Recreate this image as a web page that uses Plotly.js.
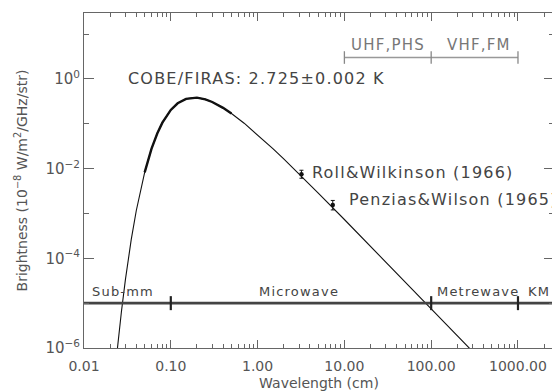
<!DOCTYPE html>
<html>
<head>
<meta charset="utf-8">
<script src="https://cdn.plot.ly/plotly-3.0.1.min.js"></script>
<style>
  html, body { margin: 0; padding: 0; overflow: hidden; background: #fff; }
  #chart { width: 556px; height: 391px; }
  .annotation-text { letter-spacing: 1.2px; }
</style>
</head>
<body>
<div id="chart"></div>
<script>
// Blackbody curve (wavelength in cm, brightness in 1e-8 W/m^2/GHz/str)
const curveWavelength = [0.024, 0.025, 0.027, 0.03, 0.035, 0.04, 0.045, 0.05, 0.06, 0.07, 0.08, 0.1, 0.12, 0.15, 0.19, 0.2, 0.25, 0.3, 0.4, 0.5, 0.7, 1, 1.5, 2, 3, 5, 10, 20, 50, 100, 200, 300];
const curveBrightness = [8.0e-7, 1.7e-6, 6.5e-6, 3.35e-5, 2.6e-4, 1.15e-3, 3.5e-3, 8.25e-3, 0.0278, 0.0615, 0.106, 0.2035, 0.286, 0.359, 0.384, 0.382, 0.350, 0.306, 0.2265, 0.170, 0.103, 0.0572, 0.0279, 0.01646, 0.00765, 2.855e-3, 7.33e-4, 1.86e-4, 3.0e-5, 7.51e-6, 1.88e-6, 8.36e-7];
// COBE/FIRAS measured range (thick part)
const firasWavelength = [0.05, 0.06, 0.07, 0.08, 0.1, 0.12, 0.15, 0.19, 0.2, 0.25, 0.3, 0.4, 0.5];
const firasBrightness = [8.25e-3, 0.0278, 0.0615, 0.106, 0.2035, 0.286, 0.359, 0.384, 0.382, 0.350, 0.306, 0.2265, 0.170];
// Early measurements
const pointNames = ["Roll&Wilkinson (1966)", "Penzias&Wilson (1965)"];
const pointWavelength = [3.2, 7.35];
const pointBrightness = [0.0075, 0.00155];
const pointErrPlus = [0.0017, 0.0004];
const pointErrMinus = [0.0014, 0.00035];
// Band bar (bottom) and radio band bar (top)
const bandLineX = [0.01, 3000];
const bandLineY = [1e-5, 1e-5];
const bandBoundaries = [0.1, 100, 1000];
const bandLevel = 1e-5;
const bandNames = ["Sub-mm", "Microwave", "Metrewave", "KM"];
const radioBoundaries = [10, 100, 1000];
const radioLevel = 3;
const radioNames = ["UHF,PHS", "VHF,FM"];
// Tick labels
const xTickVals = [0.01, 0.1, 1, 10, 100, 1000];
const xTickText = ["0.01", "0.10", "1.00", "10.00", "100.00", "1000.00"];
const yTickVals = [1e-6, 1e-4, 1e-2, 1];
const yTickText = ["10<sup>\u22126</sup>", "10<sup>\u22124</sup>", "10<sup>\u22122</sup>", "10<sup>0</sup>"];
const yMinorVals = [1e-5, 1e-3, 1e-1, 10];
const titleText = "COBE/FIRAS: 2.725\u00b10.002 K";

const xMinor = [];
[0.01, 0.1, 1, 10, 100, 1000].forEach(d => { for (let m = 2; m <= 9; m++) xMinor.push(d * m); });

const FONT = "DejaVu Sans, sans-serif";
const TXT = "#555";

const traces = [
  { x: curveWavelength, y: curveBrightness, mode: "lines", line: { color: "#111", width: 1.1 }, hoverinfo: "skip" },
  { x: firasWavelength, y: firasBrightness, mode: "lines", line: { color: "#111", width: 2.4 }, hoverinfo: "skip" },
  { x: bandLineX, y: bandLineY, mode: "lines", line: { color: "#444", width: 2.8 }, hoverinfo: "skip" },
  { x: bandBoundaries, y: bandBoundaries.map(() => bandLevel), mode: "markers",
    marker: { symbol: "line-ns", size: 10, line: { color: "#222", width: 2.2 } }, hoverinfo: "skip" },
  { x: radioBoundaries, y: radioBoundaries.map(() => radioLevel), mode: "lines+markers",
    line: { color: "#999", width: 1.5 },
    marker: { symbol: "line-ns", size: 9, line: { color: "#888", width: 1.3 } }, hoverinfo: "skip" },
  { x: pointWavelength, y: pointBrightness, mode: "markers",
    marker: { color: "#111", size: 4.5 },
    error_y: { type: "data", symmetric: false, array: pointErrPlus, arrayminus: pointErrMinus, color: "#111", thickness: 1, width: 2 },
    hoverinfo: "skip" }
];

const ann = [];
function label(text, lx, ly, size, color) {
  ann.push({ text: text, x: Math.log10(lx), y: Math.log10(ly), xref: "x", yref: "y",
    xanchor: "left", yanchor: "middle", showarrow: false,
    font: { family: FONT, size: size, color: color } });
}
label(titleText, 0.0305, 1.0, 16, "#444");
label(pointNames[0], 4.05, 0.0080, 16, "#444");
label(pointNames[1], 10.8, 0.0020, 16, "#444");
label(radioNames[0], 11.4, 5.7, 15, "#777");
label(radioNames[1], 143, 5.7, 15, "#777");
label(bandNames[0], 0.0117, 1.8e-5, 13, "#444");
label(bandNames[1], 0.98, 1.8e-5, 13, "#444");
label(bandNames[2], 112, 1.8e-5, 13, "#444");
label(bandNames[3], 1250, 1.8e-5, 13, "#444");

const layout = {
  width: 556, height: 391,
  margin: { l: 84, r: 2, t: 13, b: 43 },
  paper_bgcolor: "#fff", plot_bgcolor: "#fff",
  showlegend: false,
  font: { family: FONT, size: 14, color: TXT },
  xaxis: {
    type: "log", range: [-2, 3.415],
    showgrid: false, zeroline: false,
    showline: true, linecolor: "#666", linewidth: 1, mirror: "allticks",
    ticks: "inside", ticklen: 8, tickwidth: 1, tickcolor: "#666",
    tickmode: "array", tickvals: xTickVals, ticktext: xTickText,
    tickfont: { family: FONT, size: 14, color: TXT },
    ticklabelstandoff: 5,
    minor: { tickmode: "array", tickvals: xMinor, ticks: "inside", ticklen: 4, tickwidth: 1, tickcolor: "#666", showgrid: false },
    title: { text: "Wavelength (cm)", font: { family: FONT, size: 14, color: TXT }, standoff: 5 }
  },
  yaxis: {
    type: "log", range: [-6, 1.47],
    showgrid: false, zeroline: false,
    showline: true, linecolor: "#666", linewidth: 1, mirror: "allticks",
    ticks: "inside", ticklen: 10, tickwidth: 1, tickcolor: "#666",
    tickmode: "array", tickvals: yTickVals, ticktext: yTickText,
    tickfont: { family: FONT, size: 15, color: TXT },
    minor: { tickmode: "array", tickvals: yMinorVals, ticks: "inside", ticklen: 5, tickwidth: 1, tickcolor: "#666", showgrid: false },
    title: { text: "Brightness (10<sup>\u22128</sup> W/m<sup>2</sup>/GHz/str)", font: { family: FONT, size: 14, color: TXT }, standoff: 14 }
  },
  annotations: ann
};

Plotly.newPlot("chart", traces, layout, { staticPlot: true, displayModeBar: false, responsive: false });
</script>
</body>
</html>
